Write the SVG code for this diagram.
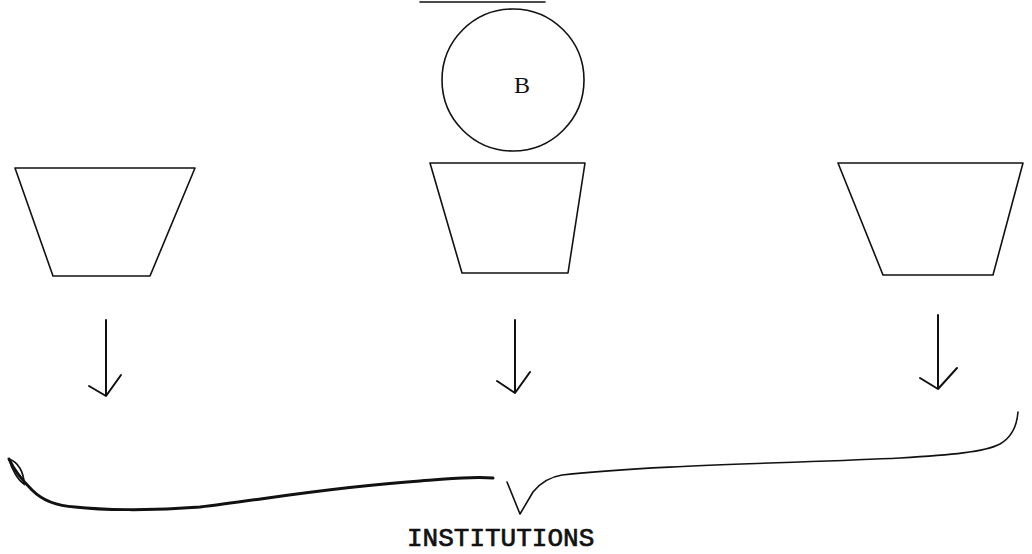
<svg xmlns="http://www.w3.org/2000/svg" width="1032" height="554" viewBox="0 0 1032 554">
<style>
.s{fill:none;stroke:#111;stroke-width:1.6;stroke-linecap:round;stroke-linejoin:round}
.a{fill:none;stroke:#111;stroke-width:2;stroke-linecap:round;stroke-linejoin:round}
.t{font-family:"Liberation Mono","Courier New",monospace;fill:#111;stroke:#111;stroke-width:0.7}
</style>
<rect width="1032" height="554" fill="#fff"/>
<g id="topline"><line class="s" x1="420" y1="2" x2="545" y2="2"/></g>
<g id="nodeB">
<circle class="s" cx="513" cy="80" r="71"/>
<text x="522" y="93" font-family="Liberation Serif,serif" font-size="24" fill="#111" text-anchor="middle">B</text>
</g>
<g id="trap-left"><polygon class="s" points="15,168 195,168 150,276 53,276"/></g>
<g id="trap-mid"><polygon class="s" points="430,163 585,163 568,273 462,273"/></g>
<g id="trap-right"><polygon class="s" points="838,163 1023,163 993,275 883,275"/></g>
<g id="connectors">
<path class="a" d="M106,320 V396 M89,386 L106,396 L121,375"/>
<path class="a" d="M515,320 V393 M497,381 L515,393 L530,372"/>
<path class="a" d="M938,315 V389 M920,378 L938,389 L957,368"/>
<path d="M9,459 C14,470 22,480 32,490 C42,500 55,506 75,507 C100,510 150,511 200,507 C260,500 330,487 420,481 C450,479 470,476 493,478" fill="none" stroke="#111" stroke-width="3" stroke-linecap="round"/>
<path d="M9,459 C18,462 24,472 24,484 C18,480 12,470 9,459 Z" fill="none" stroke="#111" stroke-width="1.8"/>
<path class="s" d="M507,482 L520,514 L533,492 C540,483 550,477 562,475 C650,465 800,463 900,458 C950,455 985,452 1000,444 C1012,437 1017,425 1018,412"/>
</g>
<g id="label"><text class="t" x="407" y="546" font-size="26">INSTITUTIONS</text></g>
</svg>
